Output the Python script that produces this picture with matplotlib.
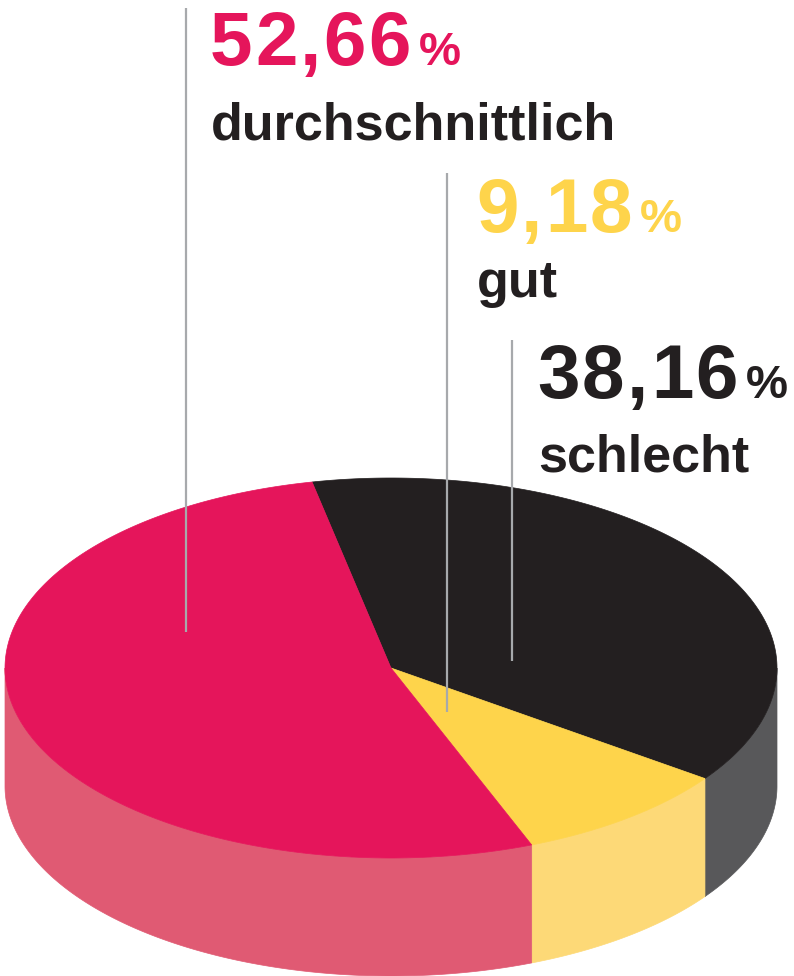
import numpy as np
import matplotlib.pyplot as plt
from matplotlib.patches import Polygon

# Data: shares in percent, in drawing order (clockwise from the top)
categories = ["schlecht", "gut", "durchschnittlich"]
shares = [38.16, 9.18, 52.66]
top_colors = ["#231f20", "#fed44b", "#e5155b"]
side_colors = ["#58585a", "#fdd977", "#e05a73"]

W, H = 794, 976
cx, cy, rx, ry, depth = 391, 668, 386, 190, 118
start = 101.8

fig = plt.figure(figsize=(W / 100, H / 100), dpi=100)
ax = fig.add_axes([0, 0, 1, 1])
ax.set_xlim(0, W)
ax.set_ylim(H, 0)
ax.axis("off")


def arc(t1, t2, dy=0, n=300):
    t = np.radians(np.linspace(t1, t2, n))
    return np.column_stack([cx + rx * np.cos(t), cy - ry * np.sin(t) + dy])


angles = start - np.cumsum([0] + shares) * 3.6

# side walls (only the front half is visible)
for i in range(len(shares)):
    hi = min(angles[i], 0)
    lo = max(angles[i + 1], -180)
    if hi <= lo:
        continue
    pts = np.vstack([arc(hi, lo), arc(lo, hi, dy=depth)])
    ax.add_patch(Polygon(pts, closed=True, facecolor=side_colors[i],
                         edgecolor=side_colors[i], lw=0.5))

# top face
for i in range(len(shares)):
    pts = np.vstack([[cx, cy], arc(angles[i], angles[i + 1])])
    ax.add_patch(Polygon(pts, closed=True, facecolor=top_colors[i],
                         edgecolor=top_colors[i], lw=0.5))

# leader lines and labels
line_col = "#a7a9ac"
label_pos = {  # x of line, line top, line bottom, text x, number baseline, label baseline
    "durchschnittlich": (186, 8, 632, 210, 65, 139),
    "gut": (447, 173, 712, 476, 232, 297),
    "schlecht": (512, 340, 661, 537, 398, 471),
}

fig.canvas.draw()
renderer = fig.canvas.get_renderer()


def tracked(x, y, s, track, **kw):
    # draw text char by char with extra spacing, return right edge
    for ch in s:
        t = ax.text(x, y, ch, ha="left", va="baseline", **kw)
        x = t.get_window_extent(renderer).x1 + track
    return x - track


font = dict(fontweight="bold", family="Liberation Sans")
for cat, val, col in zip(categories, shares, top_colors):
    lx, ly0, ly1, tx, nb, lb = label_pos[cat]
    ax.plot([lx, lx], [ly0, ly1], color=line_col, lw=1.6, solid_capstyle="butt")
    x1 = tracked(tx, nb, f"{val:.2f}".replace(".", ","), 2.5, color=col,
                 fontsize=55, **font)
    ax.text(x1 + 8, nb, "%", color=col, fontsize=34,
            ha="left", va="baseline", **font)
    ax.text(tx + 1, lb, cat, color="#231f20", fontsize=37.5,
            ha="left", va="baseline", **font)

fig.savefig("out.png", dpi=100)
